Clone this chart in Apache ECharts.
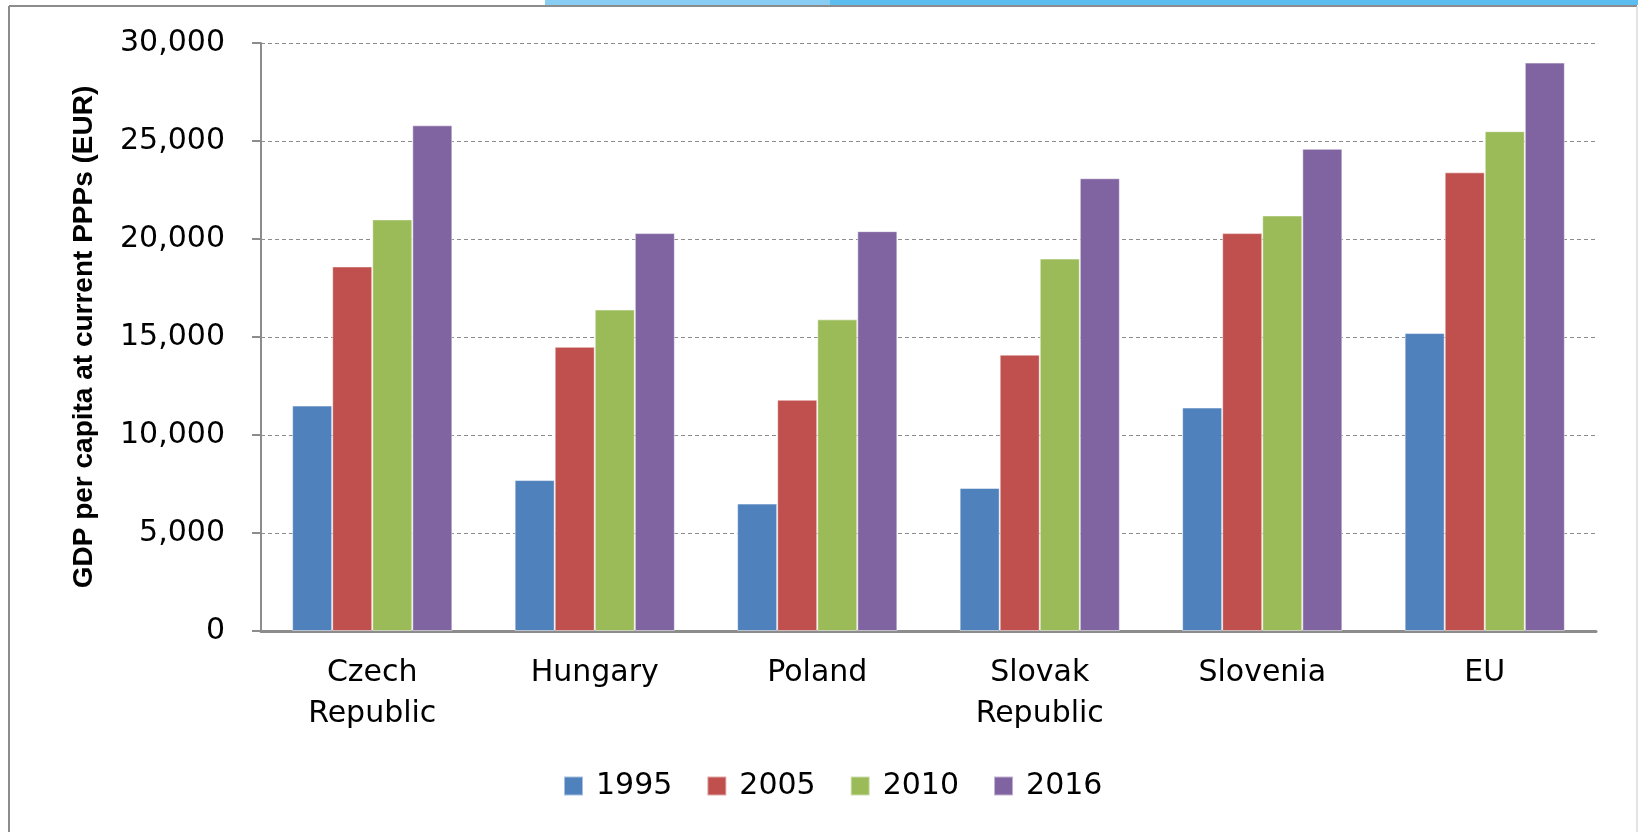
<!DOCTYPE html>
<html>
<head>
<meta charset="utf-8">
<script src="https://cdn.jsdelivr.net/npm/echarts@6/dist/echarts.min.js"></script>
<style>
  html, body { margin: 0; padding: 0; background: #fff; }
  #chart { width: 1638px; height: 832px; }
</style>
</head>
<body>
<div id="chart"></div>
<script>
'use strict';

var countries = ['Czech\nRepublic', 'Hungary', 'Poland', 'Slovak\nRepublic', 'Slovenia', 'EU'];
var years = ['1995', '2005', '2010', '2016'];
var gdp1995 = [11500, 7700, 6500, 7300, 11400, 15200];
var gdp2005 = [18600, 14500, 11800, 14100, 20300, 23400];
var gdp2010 = [21000, 16400, 15900, 19000, 21200, 25500];
var gdp2016 = [25800, 20300, 20400, 23100, 24600, 29000];
var yTicks = [0, 5000, 10000, 15000, 20000, 25000, 30000];

var colors = ['#4F81BD', '#C0504D', '#9BBB59', '#8064A2'];
var seriesData = [gdp1995, gdp2005, gdp2010, gdp2016];

var myChart = echarts.init(document.getElementById('chart'));

var series = years.map(function (y, i) {
    return {
        name: y,
        type: 'bar',
        data: seriesData[i],
        barGap: '0%',
        barCategoryGap: '28%',
        itemStyle: { color: colors[i], borderColor: 'rgba(255,255,255,0.5)', borderWidth: 1 }
    };
});

var option = {
    animation: false,
    color: colors,
    // frame + blue band at the top
    graphic: [
        { type: 'rect', shape: { x: 545, y: 0, width: 1093, height: 5 }, style: { fill: '#5BBDF0' } },
        { type: 'rect', shape: { x: 545, y: 0, width: 285, height: 5 }, style: { fill: '#88CDF4' } },
        { type: 'line', shape: { x1: 9, y1: 6, x2: 1637, y2: 6 }, style: { stroke: '#8C8C8C', lineWidth: 2 } },
        { type: 'line', shape: { x1: 9, y1: 6, x2: 9, y2: 832 }, style: { stroke: '#8C8C8C', lineWidth: 2 } },
        { type: 'line', shape: { x1: 1637, y1: 6, x2: 1637, y2: 832 }, style: { stroke: '#C8C8C8', lineWidth: 1 } }
    ],
    grid: { left: 261, right: 42, top: 43, bottom: 201 },
    legend: {
        data: years,
        left: 558,
        top: 766,
        icon: 'rect',
        itemWidth: 19,
        itemHeight: 19,
        itemGap: 34,
        textStyle: { fontFamily: 'DejaVu Sans', fontSize: 30, color: '#000', padding: [0, 0, 0, 8] }
    },
    xAxis: {
        type: 'category',
        data: countries,
        axisLine: { lineStyle: { color: '#8C8C8C', width: 3 } },
        axisTick: { show: false },
        axisLabel: {
            fontFamily: 'DejaVu Sans', fontSize: 30, color: '#000',
            lineHeight: 41, margin: 22, interval: 0
        }
    },
    yAxis: {
        type: 'value',
        min: 0,
        max: 30000,
        interval: 5000,
        name: 'GDP per capita at current PPPs (EUR)',
        nameLocation: 'middle',
        nameGap: 163,
        nameTextStyle: { fontFamily: 'Liberation Sans', fontWeight: 'bold', fontSize: 28, color: '#000' },
        axisLine: { show: true, lineStyle: { color: '#8C8C8C', width: 2 } },
        axisTick: { show: true, length: 9, lineStyle: { color: '#8C8C8C', width: 2 } },
        axisLabel: {
            fontFamily: 'DejaVu Sans', fontSize: 30, color: '#000', margin: 36,
            formatter: function (v) { return yTicks.indexOf(v) >= 0 ? v.toLocaleString('en-US') : ''; }
        },
        splitLine: { lineStyle: { color: '#8C8C8C', type: [4, 3], width: 1 } }
    },
    series: series
};

myChart.setOption(option);
</script>
</body>
</html>
